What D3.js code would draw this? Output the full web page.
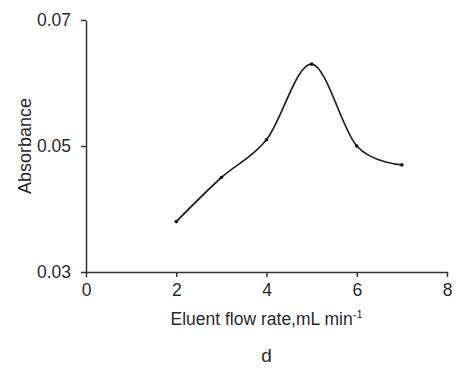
<!DOCTYPE html>
<html>
<head>
<meta charset="utf-8">
<script src="https://cdn.jsdelivr.net/npm/d3@7"></script>
<style>
  body { margin: 0; background: #fff; }
  text { font-family: "Liberation Sans", Arial, sans-serif; fill: #2a2a2a; }
</style>
</head>
<body>
<svg id="chart"></svg>
<script>
// flow rate (mL/min) vs absorbance
var flowRates = [2, 3, 4, 5, 6, 7];
var absorbance = [0.038, 0.045, 0.051, 0.063, 0.050, 0.047];
var xTicks = [0, 2, 4, 6, 8];
var yTicks = [0.03, 0.05, 0.07];

var width = 458, height = 370;
var margin = {top: 20, right: 11, bottom: 98, left: 86};

var svg = d3.select("#chart").attr("width", width).attr("height", height);

var x = d3.scaleLinear().domain([0, 8]).range([margin.left, width - margin.right]);
var y = d3.scaleLinear().domain([0.03, 0.07]).range([height - margin.bottom, margin.top]);

svg.append("g")
  .attr("transform", "translate(0," + y(0.03) + ")")
  .call(d3.axisBottom(x).tickValues(xTicks).tickFormat(d3.format("d")).tickSize(5).tickPadding(7).tickSizeOuter(0));

svg.append("g")
  .attr("transform", "translate(" + x(0) + ",0)")
  .call(d3.axisLeft(y).tickValues(yTicks).tickFormat(d3.format(".2f")).tickSize(5).tickPadding(10).tickSizeOuter(0));

svg.selectAll(".domain, .tick line").attr("stroke", "#333").attr("stroke-width", 1.5);
svg.selectAll(".tick text").style("font-size", "17.5px").attr("fill", "#2a2a2a");

var pts = flowRates.map(function(d, i){ return [d, absorbance[i]]; });

var line = d3.line()
  .x(function(d){ return x(d[0]); })
  .y(function(d){ return y(d[1]); })
  .curve(d3.curveCardinal.tension(0));

svg.append("path")
  .datum(pts)
  .attr("d", line)
  .attr("fill", "none")
  .attr("stroke", "#222")
  .attr("stroke-width", 1.7);

svg.selectAll("circle.pt")
  .data(pts)
  .enter().append("circle")
  .attr("class", "pt")
  .attr("cx", function(d){ return x(d[0]); })
  .attr("cy", function(d){ return y(d[1]); })
  .attr("r", 1.8)
  .attr("fill", "#111");

// axis titles
var xt = svg.append("text")
  .attr("x", x(4))
  .attr("y", 325)
  .attr("text-anchor", "middle")
  .style("font-size", "17.5px");
xt.append("tspan").text("Eluent flow rate,mL min");
xt.append("tspan").attr("dy", -7).style("font-size", "11px").text("-1");

svg.append("text")
  .attr("transform", "translate(31," + y(0.05) + ") rotate(-90)")
  .attr("text-anchor", "middle")
  .style("font-size", "18px")
  .text("Absorbance");

svg.append("text")
  .attr("x", x(4))
  .attr("y", 362)
  .attr("text-anchor", "middle")
  .style("font-size", "19px")
  .text("d");
</script>
</body>
</html>
